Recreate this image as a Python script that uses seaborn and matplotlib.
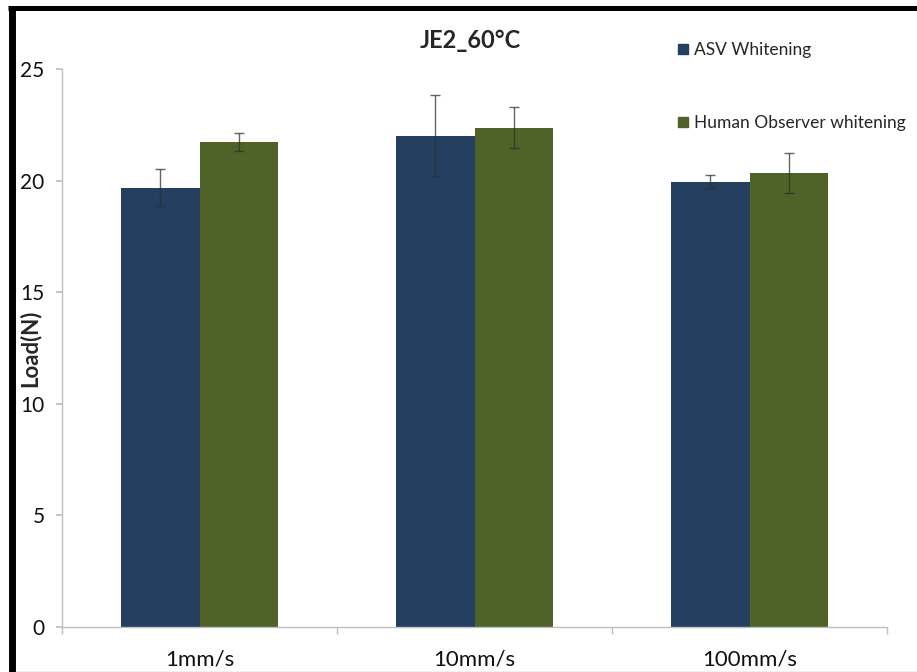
import matplotlib
matplotlib.use("Agg")
import matplotlib.pyplot as plt
from matplotlib.lines import Line2D
import seaborn as sns
import pandas as pd
import numpy as np

categories = ["1mm/s", "10mm/s", "100mm/s"]
series = ["ASV Whitening", "Human Observer whitening"]
asv_values = [19.67, 22.01, 19.95]
asv_errors = [0.83, 1.82, 0.30]
human_values = [21.73, 22.37, 20.35]
human_errors = [0.39, 0.91, 0.89]
y_ticks = [0, 5, 10, 15, 20, 25]
colors = ["#243F60", "#4F6228"]

sns.set_theme(style="white")
plt.rcParams["font.family"] = ["Lato", "DejaVu Sans"]

df = pd.DataFrame({
    "speed": categories * 2,
    "series": [series[0]] * 3 + [series[1]] * 3,
    "load": asv_values + human_values,
    "err": asv_errors + human_errors,
})

fig = plt.figure(figsize=(9.17, 6.72), dpi=100)
ax = fig.add_axes([62 / 917, 1 - 627 / 672, (887 - 62) / 917, (627 - 69) / 672])

sns.barplot(data=df, x="speed", y="load", hue="series", order=categories,
            hue_order=series, palette=colors, width=0.57, gap=0,
            errorbar=None, saturation=1, ax=ax, legend=False, linewidth=0)

# error bars at bar centres
for patch_group, vals, errs in zip(ax.containers, [asv_values, human_values], [asv_errors, human_errors]):
    xs = [p.get_x() + p.get_width() / 2 for p in patch_group]
    ax.errorbar(xs, vals, yerr=errs, fmt="none", ecolor="#303030", elinewidth=1.0,
                capsize=3.5, capthick=1.0, alpha=0.75, zorder=5)

ax.set_ylim(0, 25)
ax.set_xlim(-0.5, 2.5)
ax.set_yticks(y_ticks)
ax.set_yticklabels([str(t) for t in y_ticks], fontsize=15, color="#111111")
ax.set_xticks(range(len(categories)))
ax.set_xticklabels(categories, fontsize=16, color="#111111")
ax.set_xlabel("")
ax.set_ylabel("")

for s in ["top", "right"]:
    ax.spines[s].set_visible(False)
for s in ["left", "bottom"]:
    ax.spines[s].set_color("#BFBFBF")
    ax.spines[s].set_linewidth(1.0)

ax.tick_params(axis="y", which="both", left=True, length=4.5, color="#BFBFBF", pad=8)
ax.tick_params(axis="x", which="both", bottom=False, pad=10)
# category boundary ticks (Excel style)
ax.set_xticks([-0.5, 0.5, 1.5, 2.5], minor=True)
ax.tick_params(axis="x", which="minor", bottom=True, length=5, color="#BFBFBF")

fig.text(30 / 917, 1 - 348 / 672, "Load(N)", fontsize=16, fontweight="bold",
         rotation=90, ha="center", va="center")

fig.text(470 / 917, 1 - 40 / 672, "JE2_60°C", fontsize=17, fontweight="bold",
         ha="center", va="center")

handles = [Line2D([0], [0], marker="s", linestyle="none", markersize=7,
                  markerfacecolor=c, markeredgecolor=c) for c in colors]
leg = fig.legend(handles, series, loc="upper left", bbox_to_anchor=(678 / 917, 1 - 42 / 672),
                 frameon=False, fontsize=12.5, handlelength=0.6, handletextpad=0.3,
                 labelspacing=3.27, borderpad=0, borderaxespad=0)

# outer black frame (Excel chart border as captured)
fig.add_artist(Line2D([8 / 917, 1], [1 - 8 / 672, 1 - 8 / 672], transform=fig.transFigure,
                      color="black", linewidth=3.6, solid_capstyle="butt"))
fig.add_artist(Line2D([11.5 / 917, 11.5 / 917], [0, 1 - 5.5 / 672], transform=fig.transFigure,
                      color="black", linewidth=5.0, solid_capstyle="butt"))
fig.add_artist(Line2D([15 / 917, 1], [0.5 / 672, 0.5 / 672], transform=fig.transFigure,
                      color="#BBBBBB", linewidth=1.0))

fig.savefig("out.png", dpi=100)
